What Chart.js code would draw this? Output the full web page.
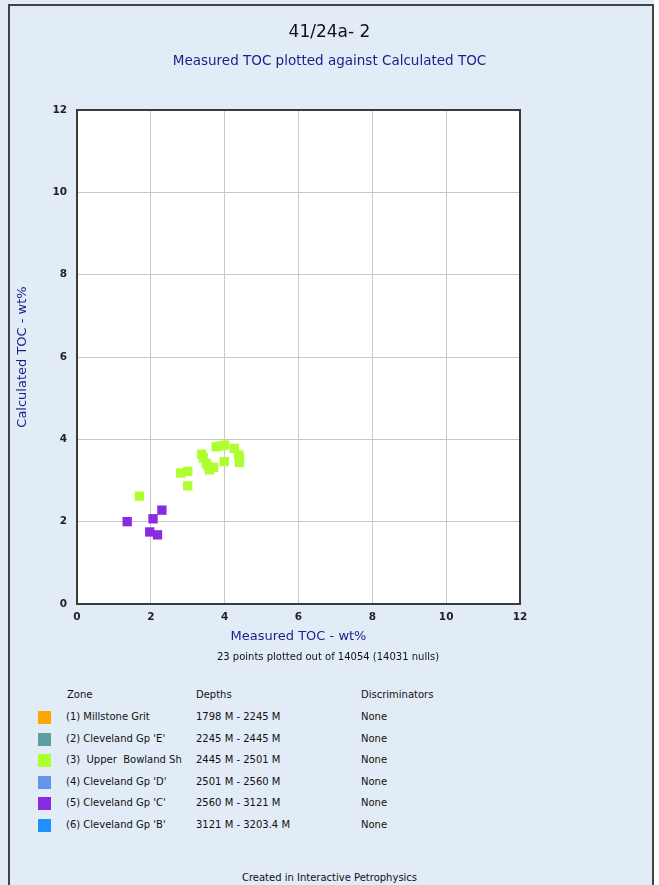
<!DOCTYPE html>
<html>
<head>
<meta charset="utf-8">
<script src="https://cdn.jsdelivr.net/npm/chart.js@4/dist/chart.umd.min.js"></script>
<style>
  html, body { margin: 0; padding: 0; }
  body { width: 659px; height: 885px; background: #e2ecf6; position: relative; overflow: hidden; font-family: "DejaVu Sans", sans-serif; }
  #edge { position: absolute; left: 654px; top: 0; width: 5px; height: 885px; background: #fff; }
  #panel { position: absolute; left: 8px; top: 4px; width: 642px; height: 890px; border-left: 2px solid #444; border-top: 2px solid #444; border-right: 2px solid #444; background: #e2ecf6; }
  #chart { position: absolute; left: 0; top: 0; }
  .txt { position: absolute; white-space: pre; }
  #title { left: 0; width: 659px; top: 21px; text-align: center; font-size: 17px; color: #111; }
  #subtitle { left: 0; width: 659px; top: 52px; text-align: center; font-size: 13.5px; color: #1c1c8a; }
  #note { left: 0; width: 656px; top: 651px; text-align: center; font-size: 10px; color: #111; }
  #credit { left: 0; width: 659px; top: 872px; text-align: center; font-size: 10px; color: #111; }
  #legend { position: absolute; left: 0; top: 0; font-size: 10px; color: #111; }
  .sw { position: absolute; width: 13px; height: 13px; }
</style>
</head>
<body>
<div id="panel"></div>
<div id="edge"></div>
<canvas id="chart" width="659" height="680"></canvas>
<div class="txt" id="title">41/24a- 2</div>
<div class="txt" id="subtitle">Measured TOC plotted against Calculated TOC</div>
<div class="txt" id="note">23 points plotted out of 14054 (14031 nulls)</div>
<div id="legend"></div>
<div class="txt" id="credit">Created in Interactive Petrophysics</div>
<script>
const zoneNames = ['(1) Millstone Grit', "(2) Cleveland Gp 'E'", '(3)  Upper  Bowland Sh', "(4) Cleveland Gp 'D'", "(5) Cleveland Gp 'C'", "(6) Cleveland Gp 'B'"];
const zoneDepths = ['1798 M - 2245 M', '2245 M - 2445 M', '2445 M - 2501 M', '2501 M - 2560 M', '2560 M - 3121 M', '3121 M - 3203.4 M'];
const zoneDiscriminators = ['None', 'None', 'None', 'None', 'None', 'None'];
const zoneColors = ['#ffa500', '#5f9ea0', '#adff2f', '#6495ed', '#8a2be2', '#1e90ff'];

// measured TOC (x) vs calculated TOC (y), per zone
const bowlandMeasured = [1.69, 2.81, 3.00, 3.00, 3.38, 3.42, 3.50, 3.59, 3.70, 3.77, 3.90, 4.00, 3.99, 4.26, 4.38, 4.40, 4.40, 3.55];
const bowlandCalc     = [2.62, 3.18, 3.22, 2.87, 3.64, 3.55, 3.42, 3.26, 3.32, 3.82, 3.84, 3.86, 3.46, 3.78, 3.62, 3.44, 3.55, 3.35];
const clevelandCMeasured = [1.36, 2.06, 2.30, 1.97, 2.18];
const clevelandCCalc     = [2.00, 2.07, 2.28, 1.75, 1.68];

const axisTicks = [0, 2, 4, 6, 8, 10, 12];

const zoneData = [[], [], bowlandMeasured.map((v, i) => ({ x: v, y: bowlandCalc[i] })), [],
  clevelandCMeasured.map((v, i) => ({ x: v, y: clevelandCCalc[i] })), []];

const plotFrame = {
  id: 'plotFrame',
  beforeDatasetsDraw(chart) {
    const a = chart.chartArea, ctx = chart.ctx;
    ctx.save();
    ctx.strokeStyle = '#3a3a3a';
    ctx.lineWidth = 2;
    ctx.strokeRect(a.left, a.top, a.right - a.left, a.bottom - a.top);
    ctx.restore();
  },
  beforeDraw(chart) {
    const a = chart.chartArea, ctx = chart.ctx;
    ctx.save();
    ctx.fillStyle = '#ffffff';
    ctx.fillRect(a.left, a.top, a.right - a.left, a.bottom - a.top);
    ctx.restore();
  }
};

const tickFont = { family: 'DejaVu Sans', size: 10.5, weight: 'bold' };
const titleFont = { family: 'DejaVu Sans', size: 13 };

new Chart(document.getElementById('chart'), {
  type: 'scatter',
  data: {
    datasets: zoneNames.map((name, i) => ({
      label: name,
      data: zoneData[i],
      backgroundColor: zoneColors[i],
      borderWidth: 0,
      pointStyle: 'rect',
      pointRadius: 6.6,
      pointHoverRadius: 6.6
    }))
  },
  options: {
    responsive: false,
    animation: false,
    layout: { padding: { left: 15, top: 110, right: 139, bottom: 36 } },
    plugins: { legend: { display: false }, tooltip: { enabled: false } },
    scales: {
      x: {
        type: 'linear', min: 0, max: 12,
        afterBuildTicks: s => { s.ticks = axisTicks.map(v => ({ value: v })); },
        afterFit: s => { s.height = 40; },
        grid: { color: '#c8c8c8', drawTicks: false },
        border: { display: false },
        ticks: { color: '#222', font: tickFont, padding: 7, maxRotation: 0 },
        title: { display: true, text: 'Measured TOC - wt%', color: '#1c1c8a', font: titleFont, padding: { top: 1, bottom: 0 } }
      },
      y: {
        type: 'linear', min: 0, max: 12,
        afterBuildTicks: s => { s.ticks = axisTicks.map(v => ({ value: v })); },
        afterFit: s => { s.width = 62; },
        grid: { color: '#c8c8c8', drawTicks: false },
        border: { display: false },
        ticks: { color: '#222', font: tickFont, padding: 10 },
        title: { display: true, text: 'Calculated TOC - wt%', color: '#1c1c8a', font: titleFont, padding: { top: 0, bottom: 4 } }
      }
    }
  },
  plugins: [plotFrame]
});

// zone table below the plot
const legend = document.getElementById('legend');
function addText(text, x, y) {
  const d = document.createElement('div');
  d.className = 'txt';
  d.textContent = text;
  d.style.left = x + 'px';
  d.style.top = y + 'px';
  legend.appendChild(d);
}
addText('Zone', 67, 689);
addText('Depths', 196, 689);
addText('Discriminators', 361, 689);
zoneNames.forEach((name, i) => {
  const y = 711 + i * 21.5;
  const sw = document.createElement('div');
  sw.className = 'sw';
  sw.style.left = '38px';
  sw.style.top = y + 'px';
  sw.style.background = zoneColors[i];
  legend.appendChild(sw);
  addText(name, 66, y);
  addText(zoneDepths[i], 196, y);
  addText(zoneDiscriminators[i], 361, y);
});
</script>
</body>
</html>
